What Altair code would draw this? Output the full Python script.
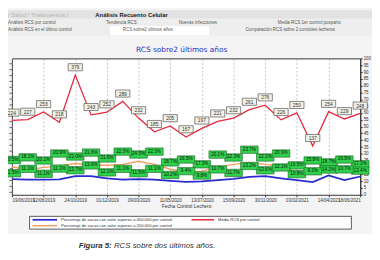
import altair as alt
import pandas as pd

# ---------------- data ----------------
idx = list(range(23))
fechas = ["19/06/2019", "12/08/2019", "24/10/2019", "01/12/2019", "09/03/2020", "11/05/2020",
          "13/07/2020", "15/09/2020", "30/11/2020", "03/02/2021", "14/04/2021", "18/06/2021"]
rcs = [224, 227, 253, 218, 379, 243, 252, 289, 232, 185, 205, 167, 197, 221, 232, 261, 276,
       226, 250, 137, 254, 229, 248]
pct400 = [11.5, 11.1, 11.1, 11.3, 13.7, 13.6, 12.1, 11.1, 11.5, 11.1, 10.2, 9.4, 9.8, 10.7,
          11.7, 13.2, 13.6, 12.1, 10.8, 9.3, 14.2, 10.7, 13.4]
pct200 = [20.5, 18.1, 20.1, 20.9, 23.0, 21.6, 21.6, 22.3, 24.5, 22.3, 18.7, 16.5, 17.3, 20.1,
          22.3, 23.7, 22.3, 20.9, 16.5, 15.8, 18.7, 16.5, 17.3]

df = pd.DataFrame({"i": idx, "rcs": rcs, "p400": pct400, "p200": pct200})
one = pd.DataFrame({"k": [0]})

FONT = "Liberation Sans"
PL = 4
W, H = 355, 139

labexpr = "[" + ",".join("'%s'" % f for f in fechas) + "][datum.value / 2]"
X = alt.X("i:Q", scale=alt.Scale(domain=[0, 22], nice=False, zero=False),
          axis=alt.Axis(values=list(range(0, 23, 2)), labelExpr=labexpr, grid=True,
                        gridDash=[2, 2], gridColor="#9a9a9a", gridWidth=0.6,
                        labelFontSize=4.6, labelColor="#333", labelFont=FONT,
                        labelOverlap=False, tickSize=2, tickColor="#333", domain=False,
                        labelPadding=1, title="Fecha Control Lechero",
                        titleFontSize=5, titleFontWeight="normal", titleFont=FONT,
                        titleColor="#333", titlePadding=1))

Yr = alt.Y("rcs:Q", scale=alt.Scale(domain=[-30, 436], nice=False, zero=False),
           axis=alt.Axis(orient="left", labels=False, ticks=True, tickSize=3,
                         tickColor="#666", grid=False, title=None, domain=False,
                         tickCount=20))

pscale = alt.Scale(domain=[0, 100], nice=False)
paxis = alt.Axis(orient="right", values=list(range(0, 101, 5)), labelFontSize=4.5,
                 labelFont=FONT, labelColor="#333", tickSize=2, tickColor="#333",
                 grid=False, title=None, domainColor="#333", labelPadding=1)

# ---------------- red series (left scale) ----------------
base_r = alt.Chart(df).encode(x=X, y=Yr)
red_line = base_r.mark_line(color="#e6283c", strokeWidth=1.3)
box_r = "M-1,-0.5L1,-0.5L1,0.5L-1,0.5Z"
red_box = base_r.mark_point(shape=box_r, size=210, filled=True, fill="#f1f1e6",
                            stroke="#555", strokeWidth=0.7, opacity=1, yOffset=-8)
red_txt = base_r.mark_text(fontSize=5, font=FONT, color="#333", yOffset=-8,
                           baseline="middle").encode(text=alt.Text("rcs:Q", format="d"))
red_layer = alt.layer(red_line, red_box, red_txt)

# ---------------- percent series (right scale) ----------------
box_g = "M-1,-0.42L1,-0.42L1,0.42L-1,0.42Z"


def pct_layers(field, color, width, offs):
    b = alt.Chart(df).transform_calculate(
        par="datum.i % 2", lab="format(datum.%s, '.1f') + '%%'" % field
    ).encode(x=X, y=alt.Y("%s:Q" % field, scale=pscale, axis=paxis))
    ln = b.mark_line(color=color, strokeWidth=width)
    out = [ln]
    for par, off in enumerate(offs):
        bb = b.transform_filter("datum.par == %d" % par)
        out.append(bb.mark_point(shape=box_g, size=320, filled=True, fill="#2fd04a",
                                 stroke="#1f5f2a", strokeWidth=0.6, opacity=1, yOffset=off))
        out.append(bb.mark_text(fontSize=4.7, font=FONT, color="#111", yOffset=off,
                                baseline="middle").encode(text="lab:N"))
    return out


pct_layer = alt.layer(*(pct_layers("p200", "#f0a062", 1.5, [-7, -13]) +
                        pct_layers("p400", "#2b2bd0", 1.8, [-6, -11])))


# ---------------- chrome ----------------
def rect(x, x2, y, y2, fill, stroke=None):
    kw = dict(fill=fill)
    if stroke:
        kw.update(stroke=stroke, strokeWidth=0.8)
    return alt.Chart(one).mark_rect(**kw).encode(
        x=alt.value(x - PL), x2=alt.value(x2 - PL), y=alt.value(y), y2=alt.value(y2))


def txt(s, x, y, size, color, weight="normal", style="normal", font=FONT, align="left"):
    return alt.Chart(one).mark_text(text=s, fontSize=size, color=color, fontWeight=weight,
                                    fontStyle=style, font=font, align=align,
                                    baseline="middle").encode(x=alt.value(x - PL), y=alt.value(y))


def rule(x, x2, y, color, w):
    return alt.Chart(one).mark_rule(color=color, strokeWidth=w).encode(
        x=alt.value(x - PL), x2=alt.value(x2 - PL), y=alt.value(y))


chrome_bg = [
    rect(0, 371, -49, -40.5, "#e2e2e2"),
    rect(0, 371, -40.5, -23, "#eeeeee"),
    rect(104, 205, -33, -23.5, "#ffffff"),
    rect(22, 350, 161, 174, "#ffffff", "#333333"),
    rect(0, 371, 179, 200, "#ffffff"),
]

chrome_fg = [
    txt("/  Salud  /  Tratamientos  /", 0, -44.5, 6, "#b5b5b5"),
    txt("Análisis Recuento Celular", 89, -44.5, 6, "#222", weight="bold"),
    txt("Análisis RCS por control", 0, -36.5, 4.5, "#555"),
    txt("Tendencia RCS", 100, -36.5, 4.5, "#555"),
    txt("Nuevas infecciones", 174, -36.5, 4.5, "#555"),
    txt("Media RCS 1er control posparto", 275, -36.5, 4.5, "#555"),
    txt("Análisis RCS en el último control", 0, -28.5, 4.5, "#555"),
    txt("RCS sobre2 últimos años", 117, -28.5, 4.5, "#555"),
    txt("Comparación RCS sobre 2 controles lecheros", 242, -28.5, 4.5, "#555"),
    txt("RCS sobre2 últimos años", 177, -9, 7.5, "#2233cc", font="DejaVu Sans", align="center"),
    rule(25, 50, 164.5, "#2b2bd0", 1.8),
    txt("Porcentaje de vacas con valor superior a 400.000 por control", 54, 164.5, 4.2, "#333"),
    rule(187, 210, 164.5, "#e6283c", 1.5),
    txt("Media RCS por control", 214, 164.5, 4.2, "#333"),
    rule(25, 50, 170.5, "#f0a062", 1.5),
    txt("Porcentaje de vacas con valor superior a 200.000 por control", 54, 170.5, 4.2, "#333"),
    txt("Figura 5:", 72, 191, 8, "#333", weight="bold", style="italic"),
    txt("RCS sobre dos últimos años.", 108, 191, 8, "#333", style="italic"),
]

chart = alt.layer(*chrome_bg, red_layer, pct_layer, *chrome_fg).resolve_scale(
    y="independent"
).properties(
    width=W, height=H, autosize="none",
    padding={"left": PL, "top": 49, "right": 12, "bottom": 58},
    background="#f4f4f4",
).configure_view(fill="white", stroke="#333", strokeWidth=1)

chart.save("out.html", embed_options={"renderer": "svg", "actions": False})
